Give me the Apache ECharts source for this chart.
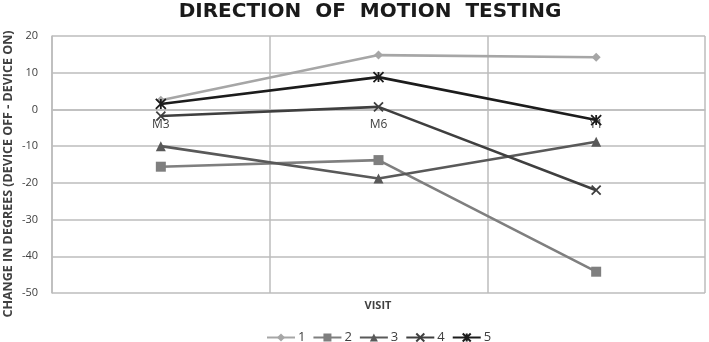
<!DOCTYPE html>
<html><head><meta charset="utf-8">
<script src="https://cdn.jsdelivr.net/npm/echarts@6/dist/echarts.min.js"></script>
<style>html,body{margin:0;padding:0;background:#fff}#c{width:709px;height:342px}</style>
</head><body><div id="c"></div>
<script>
var categories = ['M3', 'M6', 'Y1'];
var seriesNames = ['1', '2', '3', '4', '5'];
var s1 = [2.5, 14.8, 14.2];
var s2 = [-15.6, -13.8, -44.2];
var s3 = [-10, -18.8, -8.8];
var s4 = [-1.8, 0.7, -22];
var s5 = [1.5, 8.8, -2.9];
var yTicks = {min: -50, max: 20, interval: 10};

var colors = ['#a6a6a6', '#7f7f7f', '#595959', '#3f3f3f', '#1c1c1c'];
var symbols = ['diamond', 'rect', 'triangle',
  'path://M0,0L10,10M10,0L0,10',
  'path://M0,0L10,10M10,0L0,10M5,0L5,10'];
var symSizes = [9, 10, 10, 9, 10];
var data = [s1, s2, s3, s4, s5];

var gridTop = 36, gridBottom = 49, H = 342;
var plotH = H - gridTop - gridBottom;
// x axis sits on the y=0 line: shift it up from the bottom edge
var zeroOffset = -plotH * (0 - yTicks.min) / (yTicks.max - yTicks.min);

var chart = echarts.init(document.getElementById('c'));
chart.setOption({
  animation: false,
  title: {
    text: 'DIRECTION  OF  MOTION  TESTING',
    left: 365, top: -3, textAlign: 'center',
    textStyle: {fontFamily: 'DejaVu Sans', fontWeight: 'bold', fontSize: 20, color: '#1a1a1a'}
  },
  graphic: [
    {type: 'text', x: 378, y: 306, style: {text: 'VISIT', align: 'center', verticalAlign: 'middle',
      font: 'bold 11px "Open Sans"', fill: '#404040'}},
    {type: 'text', x: 8, y: 174, rotation: Math.PI / 2,
      style: {text: 'CHANGE IN DEGREES (DEVICE OFF - DEVICE ON)', align: 'center', verticalAlign: 'middle',
      font: 'bold 12.5px "Open Sans"', fill: '#404040'}}
  ],
  grid: {left: 52, right: 4, top: gridTop, bottom: gridBottom, outerBoundsMode: 'none', containLabel: false},
  legend: {
    top: 326, left: 261, itemWidth: 28, itemHeight: 10, itemGap: 7,
    textStyle: {fontFamily: 'Open Sans', fontSize: 13, color: '#404040', padding: [0, 0, 0, -2]},
    data: seriesNames
  },
  xAxis: {
    type: 'category', data: categories, boundaryGap: true,
    position: 'bottom', offset: zeroOffset,
    axisLine: {show: true, onZero: false, lineStyle: {color: '#bdbdbd', width: 1.5}},
    axisTick: {show: false},
    axisLabel: {fontFamily: 'Open Sans', fontSize: 12, color: '#404040', margin: 9},
    splitLine: {show: true, lineStyle: {color: '#bdbdbd', width: 1.5}}
  },
  yAxis: {
    type: 'value', min: yTicks.min, max: yTicks.max, interval: yTicks.interval,
    axisLine: {show: true, lineStyle: {color: '#bdbdbd', width: 1.5}},
    axisTick: {show: false},
    axisLabel: {fontFamily: 'Open Sans', fontSize: 11, color: '#404040', margin: 14},
    splitLine: {show: true, lineStyle: {color: '#bdbdbd', width: 1.5}}
  },
  series: seriesNames.map(function (n, i) {
    return {
      name: n, type: 'line', data: data[i],
      symbol: symbols[i], symbolSize: symSizes[i],
      showAllSymbol: true,
      lineStyle: {color: colors[i], width: 2.6},
      itemStyle: {color: colors[i], borderColor: colors[i], borderWidth: i >= 3 ? 1.8 : 0}
    };
  })
});
</script>
</body></html>
